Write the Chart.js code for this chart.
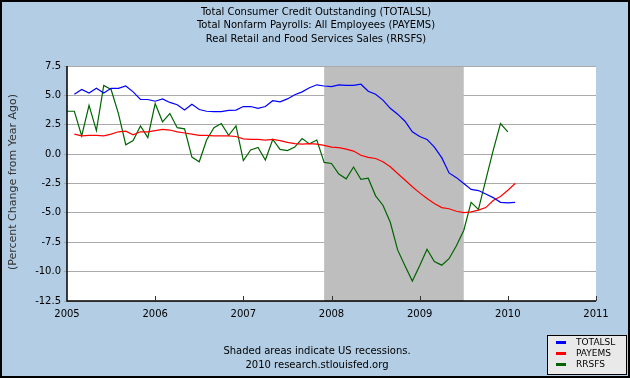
<!DOCTYPE html>
<html>
<head>
<meta charset="utf-8">
<script src="https://cdn.jsdelivr.net/npm/chart.js@4/dist/chart.umd.min.js"></script>
<style>
  html, body { margin: 0; padding: 0; background: #b3cde4; }
  #wrap { width: 630px; height: 378px; position: relative; }
</style>
</head>
<body>
<div id="wrap"><canvas id="c" width="630" height="378"></canvas></div>
<script>
// ---- data (monthly, percent change from year ago) ----
const months = [
  '2005-01','2005-02','2005-03','2005-04','2005-05','2005-06','2005-07','2005-08','2005-09','2005-10','2005-11','2005-12',
  '2006-01','2006-02','2006-03','2006-04','2006-05','2006-06','2006-07','2006-08','2006-09','2006-10','2006-11','2006-12',
  '2007-01','2007-02','2007-03','2007-04','2007-05','2007-06','2007-07','2007-08','2007-09','2007-10','2007-11','2007-12',
  '2008-01','2008-02','2008-03','2008-04','2008-05','2008-06','2008-07','2008-08','2008-09','2008-10','2008-11','2008-12',
  '2009-01','2009-02','2009-03','2009-04','2009-05','2009-06','2009-07','2009-08','2009-09','2009-10','2009-11','2009-12',
  '2010-01','2010-02'
];
const totalsl = [
  null, 5.1, 5.5, 5.2, 5.6, 5.2, 5.6, 5.6, 5.8, 5.3, 4.65, 4.65,
  4.5, 4.7, 4.4, 4.2, 3.75, 4.25, 3.8, 3.65, 3.62, 3.62, 3.72, 3.75,
  4.05, 4.05, 3.9, 4.05, 4.55, 4.45, 4.7, 5.05, 5.3, 5.65, 5.9, 5.8,
  5.75, 5.9, 5.85, 5.85, 5.95, 5.35, 5.1, 4.6, 3.9, 3.4, 2.8, 1.9,
  1.5, 1.25, 0.6, -0.3, -1.6, -2.0, -2.5, -3.0, -3.1, -3.4, -3.7, -4.1,
  -4.15, -4.1
];
const payems = [
  null, 1.7, 1.55, 1.6, 1.6, 1.55, 1.7, 1.9, 1.95, 1.65, 1.9, 1.9,
  2.0, 2.1, 2.05, 1.9, 1.8, 1.7, 1.6, 1.6, 1.55, 1.55, 1.55, 1.5,
  1.3, 1.25, 1.25, 1.2, 1.25, 1.15, 1.0, 0.9, 0.85, 0.9, 0.85, 0.75,
  0.6, 0.55, 0.43, 0.26, -0.1, -0.28, -0.37, -0.65, -1.08, -1.65, -2.2, -2.78,
  -3.3, -3.78, -4.2, -4.55, -4.65, -4.86, -4.97, -4.92, -4.77, -4.55, -3.95, -3.6,
  -3.07, -2.5
];
const rrsfs = [
  3.65, 3.65, 1.55, 4.15, 2.0, 5.85, 5.5, 3.45, 0.8, 1.15, 2.4, 1.4,
  4.3, 2.75, 3.45, 2.25, 2.15, -0.25, -0.65, 1.2, 2.25, 2.6, 1.6, 2.4,
  -0.55, 0.35, 0.57, -0.5, 1.25, 0.4, 0.3, 0.6, 1.33, 0.87, 1.2, -0.7,
  -0.8, -1.7, -2.1, -1.1, -2.15, -2.05, -3.55, -4.35, -5.8, -8.15, -9.5, -10.8,
  -9.5, -8.1, -9.15, -9.45, -8.9, -7.8, -6.5, -4.1, -4.7, -2.2, 0.3, 2.6,
  1.9, null
];
const yearTicks = ['2005','2006','2007','2008','2009','2010','2011'];
const yTickValues = [-12.5, -10.0, -7.5, -5.0, -2.5, 0.0, 2.5, 5.0, 7.5];
const recessionStart = '2007-12';
const recessionEnd = '2009-06';
const seriesNames = ['TOTALSL', 'PAYEMS', 'RRSFS'];
const seriesColors = ['#0000ff', '#ff0000', '#006400'];
const titleLines = [
  'Total Consumer Credit Outstanding (TOTALSL)',
  'Total Nonfarm Payrolls: All Employees (PAYEMS)',
  'Real Retail and Food Services Sales (RRSFS)'
];
const footerLines = ['Shaded areas indicate US recessions.', '2010 research.stlouisfed.org'];
const yTitle = '(Percent Change from Year Ago)';

// ---- helpers ----
function monthIndex(s) {
  const [y, m] = s.split('-').map(Number);
  return (y - 2005) * 12 + (m - 1);
}
function toPoints(arr) {
  return arr.map((v, i) => ({ x: monthIndex(months[i]), y: v }));
}
const FONT = 'DejaVu Sans, Verdana, sans-serif';

const decor = {
  id: 'decor',
  beforeDraw(chart) {
    const ctx = chart.ctx, a = chart.chartArea;
    ctx.save();
    ctx.fillStyle = '#b3cde4';
    ctx.fillRect(0, 0, chart.width, chart.height);
    ctx.fillStyle = '#ffffff';
    ctx.fillRect(a.left, a.top, a.right - a.left, a.bottom - a.top);
    ctx.restore();
  },
  beforeDatasetsDraw(chart) {
    const ctx = chart.ctx, a = chart.chartArea, xs = chart.scales.x;
    const x0 = xs.getPixelForValue(monthIndex(recessionStart));
    const x1 = xs.getPixelForValue(monthIndex(recessionEnd) + 1);
    ctx.save();
    ctx.fillStyle = '#bebebe';
    ctx.fillRect(x0, a.top, x1 - x0, a.bottom - a.top);
    ctx.strokeStyle = '#aaaaaa';
    ctx.lineWidth = 1;
    ctx.beginPath();
    ctx.moveTo(a.left, a.top + 0.5);
    ctx.lineTo(a.right, a.top + 0.5);
    ctx.stroke();
    ctx.restore();
  },
  afterDraw(chart) {
    const ctx = chart.ctx, a = chart.chartArea, xs = chart.scales.x;
    ctx.save();
    ctx.strokeStyle = '#000';
    ctx.lineWidth = 1.5;
    ctx.beginPath();
    ctx.moveTo(a.left, a.top);
    ctx.lineTo(a.left, a.bottom);
    ctx.lineTo(a.right, a.bottom);
    ctx.stroke();
    ctx.lineWidth = 1;
    ctx.strokeStyle = '#333';
    yearTicks.forEach((t, i) => {
      if (i === 0) return;
      const px = Math.round(xs.getPixelForValue(i * 12)) + 0.5;
      ctx.beginPath();
      ctx.moveTo(px, a.bottom);
      ctx.lineTo(px, a.bottom - 5);
      ctx.stroke();
    });
    ctx.fillStyle = '#000';
    ctx.font = '10px ' + FONT;
    ctx.textAlign = 'center';
    ctx.textBaseline = 'middle';
    titleLines.forEach((t, i) => ctx.fillText(t, 316, 12 + i * 13.5));
    footerLines.forEach((t, i) => ctx.fillText(t, 317, 351 + i * 14));
    ctx.save();
    ctx.translate(13, 182);
    ctx.rotate(-Math.PI / 2);
    ctx.fillStyle = '#333';
    ctx.font = '11px ' + FONT;
    ctx.fillText(yTitle, 0, 0);
    ctx.restore();
    const lx = 547, ly = 335, lw = 79, lh = 39;
    ctx.fillStyle = '#e9e9e9';
    ctx.fillRect(lx, ly, lw, lh);
    ctx.strokeStyle = '#000';
    ctx.lineWidth = 1;
    ctx.strokeRect(lx + 0.5, ly + 0.5, lw, lh);
    ctx.font = '9px ' + FONT;
    ctx.textAlign = 'left';
    seriesNames.forEach((n, i) => {
      const yy = 342 + i * 11;
      ctx.fillStyle = seriesColors[i];
      ctx.fillRect(556, yy - 1, 10, 3);
      ctx.fillStyle = '#000';
      ctx.fillText(n, 576, yy + 0.5);
    });
    ctx.strokeStyle = '#000';
    ctx.lineWidth = 2;
    ctx.strokeRect(1, 1, chart.width - 2, chart.height - 2);
    ctx.restore();
  }
};

new Chart(document.getElementById('c'), {
  type: 'line',
  data: {
    datasets: [
      { label: seriesNames[0], data: toPoints(totalsl), borderColor: seriesColors[0] },
      { label: seriesNames[1], data: toPoints(payems), borderColor: seriesColors[1] },
      { label: seriesNames[2], data: toPoints(rrsfs), borderColor: seriesColors[2] }
    ]
  },
  options: {
    responsive: false,
    animation: false,
    devicePixelRatio: 1,
    layout: { padding: { top: 66, left: 0, right: 34, bottom: 57 } },
    elements: {
      line: { borderWidth: 1.2, tension: 0, fill: false },
      point: { radius: 0, hoverRadius: 0 }
    },
    plugins: { legend: { display: false }, title: { display: false }, tooltip: { enabled: false } },
    scales: {
      x: {
        type: 'linear',
        min: 0,
        max: (yearTicks.length - 1) * 12,
        afterFit(s) { s.height = 20; },
        afterBuildTicks(s) { s.ticks = yearTicks.map((t, i) => ({ value: i * 12 })); },
        ticks: {
          callback: (v) => yearTicks[Math.round(v / 12)],
          color: '#000',
          font: { family: FONT, size: 10 },
          padding: 7,
          maxRotation: 0,
          autoSkip: false
        },
        grid: { display: false, drawTicks: false },
        border: { display: false }
      },
      y: {
        min: yTickValues[0],
        max: yTickValues[yTickValues.length - 1],
        afterFit(s) { s.width = 67; },
        afterBuildTicks(s) { s.ticks = yTickValues.map(v => ({ value: v })); },
        ticks: {
          callback: (v) => v.toFixed(1),
          color: '#000',
          font: { family: FONT, size: 10 },
          padding: 3
        },
        grid: { color: '#aaaaaa', lineWidth: 1, drawTicks: true, tickLength: 3, tickColor: '#aaaaaa' },
        border: { display: false }
      }
    }
  },
  plugins: [decor]
});
</script>
</body>
</html>
